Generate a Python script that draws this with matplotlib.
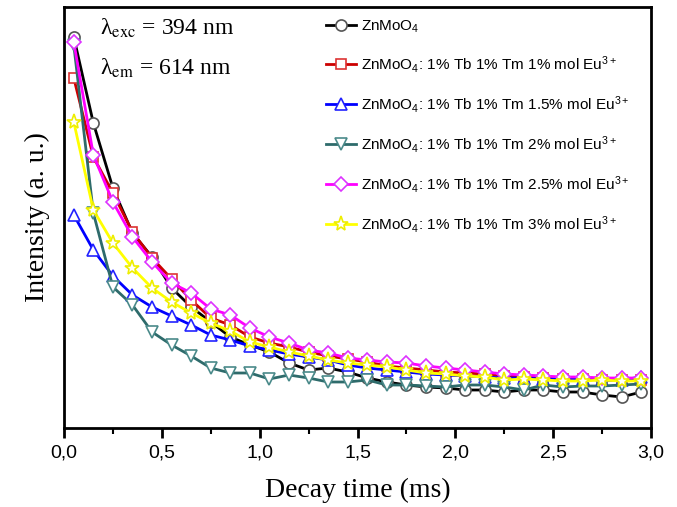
import matplotlib
matplotlib.use("Agg")
import matplotlib.pyplot as plt
import numpy as np

# time axis (ms)
time_ms = [0.05, 0.15, 0.25, 0.35, 0.45, 0.55, 0.65, 0.75, 0.85, 0.95,
           1.05, 1.15, 1.25, 1.35, 1.45, 1.55, 1.65, 1.75, 1.85, 1.95,
           2.05, 2.15, 2.25, 2.35, 2.45, 2.55, 2.65, 2.75, 2.85, 2.95]

# intensities (a. u.)
znmoo4 = [391, 305, 240, 195, 171, 140, 121, 106, 91, 83,
          76, 65, 58, 60, 56, 50, 46, 43, 41, 40,
          38, 38, 36, 38, 38, 36, 36, 33, 31, 36]
eu_1 = [350, 271, 235, 196, 170, 149, 128, 110, 103, 91,
        85, 81, 76, 72, 69, 66, 62, 60, 58, 56,
        55, 54, 52, 51, 50, 49, 49, 48, 48, 48]
eu_15 = [213, 178, 152, 133, 121, 112, 103, 93, 88, 82,
         78, 74, 71, 68, 63, 60, 58, 56, 54, 53,
         52, 51, 50, 50, 49, 50, 49, 48, 48, 51]
eu_2 = [383, 215, 141, 123, 96, 83, 72, 60, 55, 55,
        49, 53, 50, 46, 46, 48, 43, 43, 42, 41,
        43, 43, 41, 38, 43, 41, 42, 42, 43, 44]
eu_25 = [386, 273, 226, 191, 166, 145, 135, 119, 113, 100,
         91, 85, 78, 75, 70, 68, 66, 65, 62, 60,
         58, 56, 54, 53, 52, 51, 51, 50, 50, 50]
eu_3 = [306, 218, 185, 160, 140, 126, 115, 105, 97, 86,
        81, 76, 72, 68, 65, 63, 61, 58, 55, 54,
        52, 51, 48, 49, 48, 47, 47, 48, 47, 47]

labels = [r'ZnMoO$_4$',
          r'ZnMoO$_4$: 1% Tb 1% Tm 1% mol Eu$^{3+}$',
          r'ZnMoO$_4$: 1% Tb 1% Tm 1.5% mol Eu$^{3+}$',
          r'ZnMoO$_4$: 1% Tb 1% Tm 2% mol Eu$^{3+}$',
          r'ZnMoO$_4$: 1% Tb 1% Tm 2.5% mol Eu$^{3+}$',
          r'ZnMoO$_4$: 1% Tb 1% Tm 3% mol Eu$^{3+}$']
series = [znmoo4, eu_1, eu_15, eu_2, eu_25, eu_3]
line_colors = ['#000000', '#cc0000', '#0000ff', '#2e6b6b', '#ff00ff', '#ffff00']
edge_colors = ['#555555', '#dd3333', '#2222ff', '#4a8a8a', '#dd33ff', '#eeee00']
markers = ['o', 's', '^', 'v', 'D', '*']
msizes = [8, 7.5, 9, 9, 7.5, 11]

plt.rcParams['mathtext.fontset'] = 'custom'
plt.rcParams['mathtext.rm'] = 'Liberation Sans'
plt.rcParams['mathtext.it'] = 'Liberation Sans:italic'
plt.rcParams['mathtext.bf'] = 'Liberation Sans:bold'

fig = plt.figure(figsize=(6.77, 5.07), dpi=100)
ax = fig.add_axes([64/677, 1 - 428/507, (651-64)/677, (428-7)/507])

for y, lab, lc, ec, m, ms in zip(series, labels, line_colors, edge_colors, markers, msizes):
    ax.plot(time_ms, y, color=lc, lw=2, marker=m, ms=ms, mfc='white',
            mec=ec, mew=1.2, label=lab)

ax.set_xlim(0, 3.0)
ax.set_ylim(0, 421)
ax.set_xticks(np.arange(0, 3.01, 0.5))
ax.set_xticks(np.arange(0.25, 3.0, 0.5), minor=True)
ax.set_xticklabels([f'{v:.1f}'.replace('.', ',') for v in np.arange(0, 3.01, 0.5)],
                   family='Liberation Sans', fontsize=14)
ax.set_yticks([])
ax.tick_params(axis='x', which='major', direction='out', length=7, width=2, pad=5)
ax.tick_params(axis='x', which='minor', direction='out', length=4, width=1.5)
for s in ax.spines.values():
    s.set_linewidth(2)

ax.set_xlabel('Decay time (ms)', family='Liberation Serif', fontsize=20, labelpad=12)
ax.set_ylabel('Intensity (a. u.)', family='Liberation Serif', fontsize=20, labelpad=10)

ax.text(0.062, 0.95, r'λ$_{\mathrm{exc}}$ = 394 nm', transform=ax.transAxes,
        family='Liberation Serif', math_fontfamily='stix', fontsize=17,
        ha='left', va='center')
ax.text(0.062, 0.855, r'λ$_{\mathrm{em}}$ = 614 nm', transform=ax.transAxes,
        family='Liberation Serif', math_fontfamily='stix', fontsize=17,
        ha='left', va='center')

leg = ax.legend(loc='upper left', bbox_to_anchor=(0.43, 0.995), frameon=False,
                prop={'family': 'Liberation Sans', 'size': 11},
                handlelength=2.0, handletextpad=0.3, labelspacing=1.25,
                borderaxespad=0.2)

fig.savefig('out.png', dpi=100, facecolor='white')
